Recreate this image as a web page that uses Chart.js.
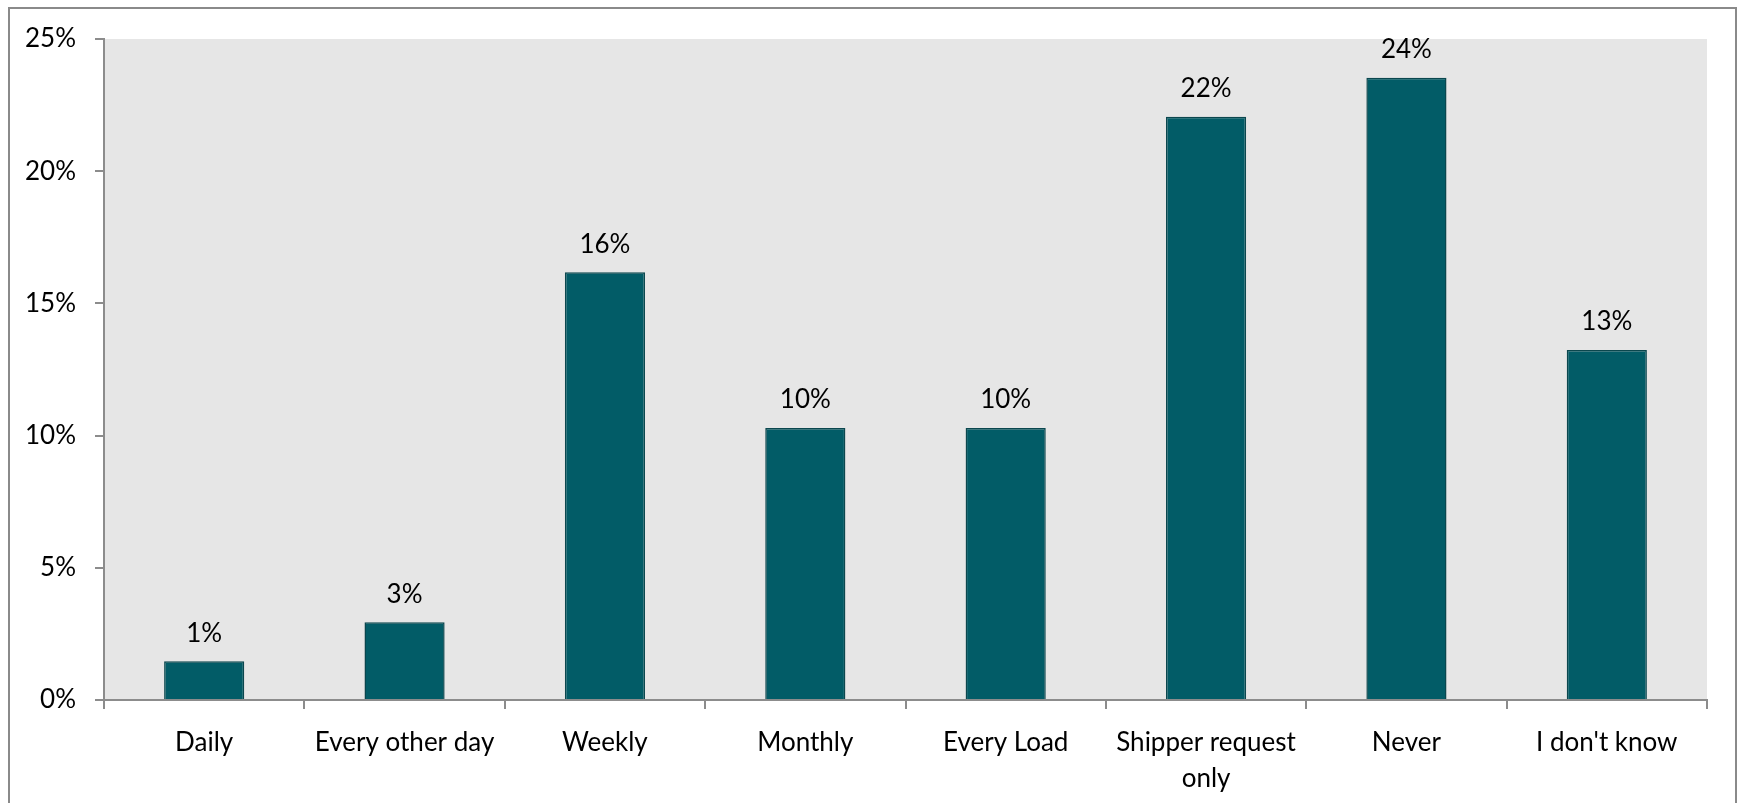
<!DOCTYPE html>
<html>
<head>
<meta charset="utf-8">
<script src="https://cdn.jsdelivr.net/npm/chart.js@4"></script>
<style>
	html, body { margin: 0; padding: 0; background: #fff; overflow: hidden; }
	#wrap { position: relative; width: 1741px; height: 803px; }
	#frame { position: absolute; left: 8px; top: 7px; width: 1725px; height: 900px; border: 2px solid #8a8a8a; pointer-events: none; }
</style>
</head>
<body>
<div id="wrap">
	<canvas id="chart"></canvas>
	<div id="frame"></div>
</div>
<script>
const categories = ["Daily", "Every other day", "Weekly", "Monthly", "Every Load", ["Shipper request", "only"], "Never", "I don't know"];
const shares = [1.47, 2.94, 16.18, 10.29, 10.29, 22.06, 23.53, 13.24];
const yTicks = [0, 5, 10, 15, 20, 25];

const fontFamily = "Lato, 'Open Sans', sans-serif";
const axisColor = "#8c8c8c";

const plotBackground = {
	id: "plotBackground",
	beforeDraw(chart) {
		const a = chart.chartArea;
		const ctx = chart.ctx;
		ctx.save();
		ctx.fillStyle = "#e6e6e6";
		ctx.fillRect(a.left, a.top, a.right - a.left, a.bottom - a.top);
		ctx.restore();
	}
};

const barLabels = {
	id: "barLabels",
	afterDatasetsDraw(chart) {
		const ctx = chart.ctx;
		const meta = chart.getDatasetMeta(0);
		ctx.save();
		ctx.font = "26px " + fontFamily;
		ctx.fillStyle = "#000";
		ctx.textAlign = "center";
		ctx.textBaseline = "middle";
		meta.data.forEach(function (bar, i) {
			ctx.fillText(Math.round(shares[i]) + "%", bar.x, bar.y - 28);
		});
		ctx.restore();
	}
};

const canvas = document.getElementById("chart").getContext("2d");
new Chart(canvas, {
	type: "bar",
	data: {
		labels: categories,
		datasets: [{
			data: shares,
			backgroundColor: "#025c67",
			borderColor: "#0b474e",
			borderWidth: 1.5,
			barPercentage: 0.4,
			categoryPercentage: 1
		}]
	},
	options: {
		responsive: true,
		maintainAspectRatio: false,
		animation: false,
		layout: { padding: { top: 39, right: 34, bottom: 0, left: 0 } },
		plugins: {
			legend: { display: false },
			tooltip: { enabled: false }
		},
		scales: {
			x: {
				offset: true,
				grid: {
					offset: true,
					drawOnChartArea: false,
					tickLength: 9,
					color: axisColor,
					lineWidth: 2
				},
				border: { color: axisColor, width: 2 },
				ticks: {
					color: "#000",
					padding: 15,
					maxRotation: 0,
					autoSkip: false,
					font: { family: fontFamily, size: 26, lineHeight: 1.4 }
				},
				afterFit(scale) { scale.height = 103; }
			},
			y: {
				min: yTicks[0],
				max: yTicks[yTicks.length - 1],
				afterBuildTicks(scale) { scale.ticks = yTicks.map(v => ({ value: v })); },
				grid: {
					drawOnChartArea: false,
					tickLength: 9,
					color: axisColor,
					lineWidth: 2
				},
				border: { color: axisColor, width: 2 },
				ticks: {
					color: "#000",
					padding: 19,
					callback: v => v + "%",
					font: { family: fontFamily, size: 26 }
				},
				afterFit(scale) { scale.width = 104; }
			}
		}
	},
	plugins: [plotBackground, barLabels]
});
</script>
</body>
</html>
